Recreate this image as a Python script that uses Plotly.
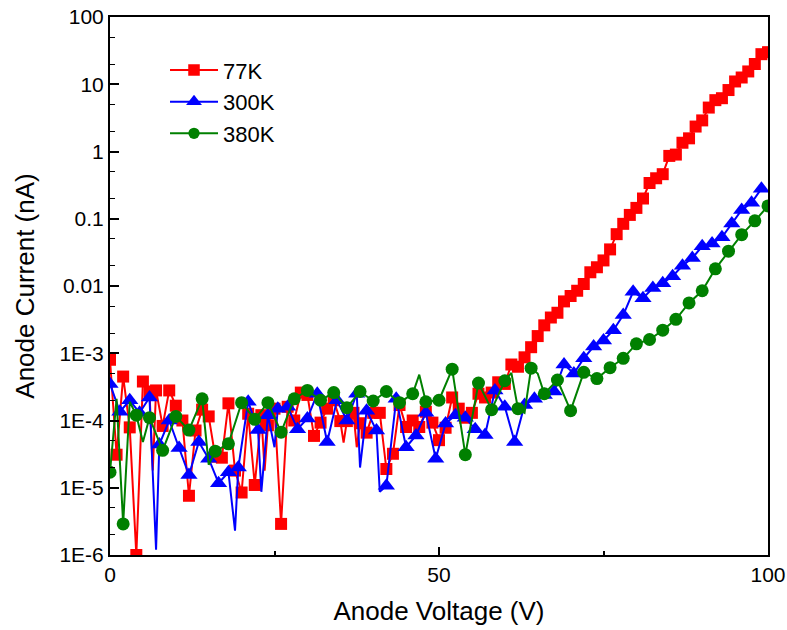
import plotly.graph_objects as go

# ---------------- data ----------------
# 77K : marked points every 1 V
v77 = list(range(0, 101))
i77 = [8e-4, 3.1e-5, 4.5e-4, 7.9e-5, 1e-6, 3.8e-4, 2.7e-4, 2.8e-4, 8.3e-5, 2.8e-4,
       1.66e-4, 1.0e-4, 7.6e-6, 7.1e-5, 1.45e-4, 1.15e-4, 2.9e-5, 2.8e-5, 1.8e-4, 1.8e-5,
       8.5e-6, 1.26e-4, 1.1e-5, 1.2e-4, 8.5e-5, 1.5e-4, 2.9e-6, 1.6e-4, 1.0e-4, 2.6e-4,
       2.4e-4, 5.9e-5, 9.3e-5, 1.5e-4, 2.0e-4, 9.8e-5, 9.8e-5, 1.3e-4, 9.1e-5, 6.6e-5,
       1.3e-4, 1.3e-4, 1.9e-5, 3.2e-5, 1.7e-4, 8e-5, 1e-4, 8e-5, 1.35e-4, 9.3e-5,
       5.1e-5, 7.8e-5, 2.2e-4, 1.5e-4, 1.1e-4, 1.3e-4, 2.5e-4, 2.2e-4, 2.6e-4, 3.7e-4,
       3.5e-4, 6.8e-4, 6.3e-4, 8.7e-4, 1.23e-3, 1.8e-3, 2.6e-3, 3.4e-3, 4.0e-3, 5.9e-3,
       7.1e-3, 8.5e-3, 1.07e-2, 1.6e-2, 1.9e-2, 2.4e-2, 3.5e-2, 5.9e-2, 8.4e-2, 0.114,
       0.145, 0.2, 0.34, 0.40, 0.46, 0.86, 0.90, 1.35, 1.57, 2.35,
       2.9, 4.5, 5.8, 6.2, 8.2, 11, 12.6, 15.5, 20, 28,
       30]
# 77K : unmarked intermediate readings (line only)
v77_extra = [6.5, 23.5, 35.5, 37.5]
i77_extra = [1.8e-5, 1.8e-5, 4.7e-5, 4.0e-5]

# 300K : marked points every 1.5 V
v300 = [1.5 * k for k in range(67)]
i300 = [3.5e-4, 1.35e-4, 2e-4, 1.3e-4, 2.2e-4, 4.4e-5, 1.0e-4, 3.9e-5, 1.55e-5, 4.8e-5,
        2.7e-5, 1.17e-5, 1.7e-5, 2.0e-5, 1.9e-4, 7.2e-5, 1.2e-4, 1.5e-4, 1.6e-4, 7.4e-5,
        1.07e-4, 2.5e-4, 4.8e-5, 2.0e-4, 1.0e-4, 2.5e-4, 1.4e-4, 7.1e-5, 1.07e-5, 2.1e-4,
        4e-5, 6e-5, 1.3e-4, 2.7e-5, 9e-5, 1.2e-4, 1.1e-4, 7.4e-5, 6.1e-5, 2.8e-4,
        1.6e-4, 4.8e-5, 1.7e-4, 2.1e-4, 2.4e-4, 2.7e-4, 6.8e-4, 5e-4, 8.4e-4, 1.26e-3,
        1.55e-3, 2.2e-3, 3.7e-3, 8.2e-3, 6.6e-3, 9.3e-3, 1.1e-2, 1.4e-2, 2.0e-2, 2.6e-2,
        3.9e-2, 4.3e-2, 5.3e-2, 8.5e-2, 0.135, 0.173, 0.28]
v300_extra = [7.0, 19.0, 23.0, 25.0, 38.0, 41.0]
i300_extra = [1.2e-6, 2.3e-6, 8.7e-6, 4e-5, 2e-5, 8.7e-6]

# 380K : marked points every 2 V
v380 = list(range(0, 101, 2))
i380 = [1.7e-5, 2.9e-6, 1.2e-4, 1.1e-4, 3.6e-5, 1.15e-4, 7.2e-5, 2.1e-4, 3.5e-5, 4.5e-5,
        1.84e-4, 1.04e-4, 1.84e-4, 6.7e-5, 2.1e-4, 2.8e-4, 2.0e-4, 2.6e-4, 1.55e-4, 2.7e-4,
        1.95e-4, 2.7e-4, 1.84e-4, 2.5e-4, 1.9e-4, 2.0e-4, 5.8e-4, 3.1e-5, 3.6e-4, 1.45e-4,
        3.9e-4, 1.5e-4, 6e-4, 2.5e-4, 4e-4, 1.4e-4, 5.2e-4, 4.2e-4, 6.1e-4, 8.4e-4,
        1.38e-3, 1.6e-3, 2.2e-3, 3.2e-3, 5.6e-3, 8.5e-3, 1.8e-2, 3.3e-2, 5.8e-2, 9.3e-2,
        0.155]
v380_extra = [1, 3, 5, 15, 47, 61, 63, 65]
i380_extra = [2.1e-4, 1.9e-4, 4.8e-5, 2.2e-5, 4.8e-4, 5.1e-4, 1.3e-4, 5e-4]

ytick_vals = [1e-6, 1e-5, 1e-4, 1e-3, 1e-2, 1e-1, 1, 10, 100]
ytick_text = ["1E-6", "1E-5", "1E-4", "1E-3", "0.01", "0.1", "1", "10", "100"]
xtick_vals = [0, 50, 100]

FONT = "Liberation Sans, Arial, sans-serif"


def merged(vm, im, ve, ie, msize):
    pts = [(v, i, msize) for v, i in zip(vm, im)] + [(v, i, 0) for v, i in zip(ve, ie)]
    pts.sort(key=lambda p: p[0])
    return [p[0] for p in pts], [p[1] for p in pts], [p[2] for p in pts]


series = [
    ("77K", v77, i77, v77_extra, i77_extra, "#FF0000", "square", 12),
    ("300K", v300, i300, v300_extra, i300_extra, "#0000FF", "triangle-up", 15),
    ("380K", v380, i380, v380_extra, i380_extra, "#008000", "circle", 13),
]

fig = go.Figure()
for name, vm, im, ve, ie, col, sym, ms in series:
    x, y, s = merged(vm, im, ve, ie, ms)
    fig.add_trace(go.Scatter(
        x=x, y=y, name=name, mode="lines+markers",
        line=dict(color=col, width=2),
        marker=dict(color=col, symbol=sym, size=s, opacity=1, line=dict(width=0)),
    ))

axis_common = dict(
    showline=True, linecolor="black", linewidth=2, mirror=True,
    ticks="inside", tickcolor="black", tickwidth=1.5,
    showgrid=False, zeroline=False, automargin=False,
    tickfont=dict(family=FONT, size=21, color="black"),
)

fig.update_xaxes(
    range=[0, 100], tickvals=xtick_vals, ticklen=8,
    minor=dict(ticks="inside", dtick=25, ticklen=4, tickcolor="black", tickwidth=1.5, showgrid=False),
    title=dict(text="Anode Voltage (V)", font=dict(family=FONT, size=26, color="black"), standoff=17),
    **axis_common,
)
fig.update_yaxes(
    type="log", range=[-6, 2], tickvals=ytick_vals, ticktext=ytick_text, ticklen=9,
    minor=dict(ticks="inside", ticklen=5, tickcolor="black", tickwidth=1.2, showgrid=False),
    title=dict(text="Anode Current (nA)", font=dict(family=FONT, size=26, color="black"), standoff=17),
    **axis_common,
)

fig.update_layout(
    width=787, height=630,
    margin=dict(l=110, r=19, t=17, b=75),
    plot_bgcolor="white", paper_bgcolor="white",
    font=dict(family=FONT, color="black"),
    legend=dict(
        x=0.0836, y=0.94, xanchor="left", yanchor="top",
        bgcolor="rgba(0,0,0,0)", font=dict(family=FONT, size=22, color="black"),
        itemwidth=48, tracegroupgap=0,
    ),
)

fig.write_html("out.html")
